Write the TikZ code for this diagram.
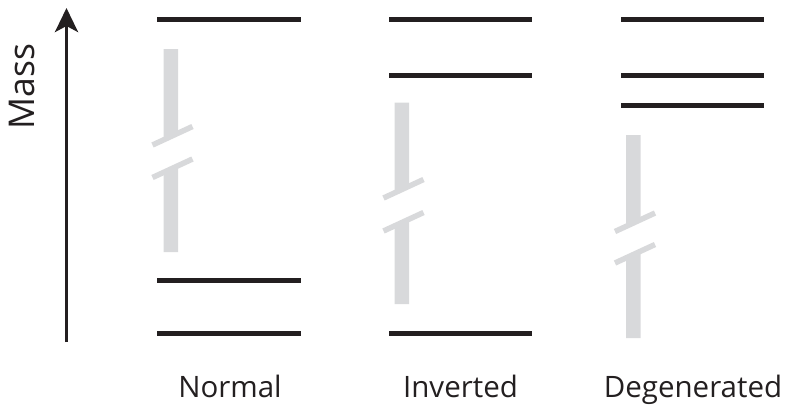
\documentclass[tikz,border=0pt]{standalone}
\usepackage{fontspec}
\setmainfont{Open Sans}
\usetikzlibrary{arrows.meta}
\definecolor{bargray}{RGB}{216,217,219}
\definecolor{lvl}{RGB}{35,31,32}
\tikzset{
  level/.style={draw=lvl, line width=4.8pt},
  barfill/.style={fill=bargray, draw=none},
  slash/.style={draw=bargray, line width=5.5pt},
  lbl/.style={font=\fontsize{29.5}{32}\selectfont, text=lvl, anchor=base, inner sep=0pt},
}
% #1 = bar left x, #2 = top y, #3 = slash1 y at left end, #4 = slash2 y at left end, #5 = bottom y
\newcommand{\brokenbar}[5]{%
  \pgfmathsetmacro{\xl}{#1}\pgfmathsetmacro{\xr}{#1+14.5}%
  \pgfmathsetmacro{\sa}{#1-11}\pgfmathsetmacro{\sb}{#1+29}%
  \pgfmathsetmacro{\ya}{#3-18.5*11/40-2}\pgfmathsetmacro{\yb}{#3-18.5*25.5/40-2}%
  \pgfmathsetmacro{\yc}{#4-18.5*11/40}\pgfmathsetmacro{\yd}{#4-18.5*25.5/40}%
  \fill[barfill] (\xl,#2) -- (\xr,#2) -- (\xr,\yb) -- (\xl,\ya) -- cycle;
  \fill[barfill] (\xl,\yc) -- (\xr,\yd) -- (\xr,#5) -- (\xl,#5) -- cycle;
  \draw[slash] (\sa,#3) -- (\sb,#3-18.5);
  \draw[slash] (\sa,#4) -- (\sb,#4-18.5);
}
\begin{document}
\begin{tikzpicture}[x=1pt,y=-1pt]
\useasboundingbox (0,0) rectangle (787,408);
% axis
\coordinate (axbot) at (66.5,342);
\coordinate (axtop) at (66.5,8);
\draw[draw=lvl, line width=3.6pt, -{Stealth[length=24pt,width=23pt,inset=6pt]}] (axbot) -- (axtop);
\node[font=\fontsize{35.5}{38}\selectfont, text=lvl, rotate=90, inner sep=0pt] (mass) at (22.5,86.5) {Mass};
% broken bars
\brokenbar{163.5}{49}{145}{177.5}{252}
\brokenbar{394.5}{102.5}{198}{231}{304}
\brokenbar{626}{135}{231.5}{263}{338}
% Normal
\coordinate (n1a) at (157,19.5);  \coordinate (n1b) at (301,19.5);
\coordinate (n2a) at (157,280.5); \coordinate (n2b) at (301,280.5);
\coordinate (n3a) at (157,333.5); \coordinate (n3b) at (301,333.5);
\draw[level] (n1a) -- (n1b);
\draw[level] (n2a) -- (n2b);
\draw[level] (n3a) -- (n3b);
% Inverted
\coordinate (i1a) at (389,19.5);  \coordinate (i1b) at (532,19.5);
\coordinate (i2a) at (389,75.5);  \coordinate (i2b) at (532,75.5);
\coordinate (i3a) at (389,333.5); \coordinate (i3b) at (532,333.5);
\draw[level] (i1a) -- (i1b);
\draw[level] (i2a) -- (i2b);
\draw[level] (i3a) -- (i3b);
% Degenerated
\coordinate (d1a) at (621,19.5);  \coordinate (d1b) at (764,19.5);
\coordinate (d2a) at (621,75.5);  \coordinate (d2b) at (764,75.5);
\coordinate (d3a) at (621,105.5); \coordinate (d3b) at (764,105.5);
\draw[level] (d1a) -- (d1b);
\draw[level] (d2a) -- (d2b);
\draw[level] (d3a) -- (d3b);
% labels
\node[lbl] (lnormal) at (230,397) {Normal};
\node[lbl] (linverted) at (460.5,397) {Inverted};
\node[lbl] (ldegen) at (693,397) {Degenerated};
\end{tikzpicture}
\end{document}
